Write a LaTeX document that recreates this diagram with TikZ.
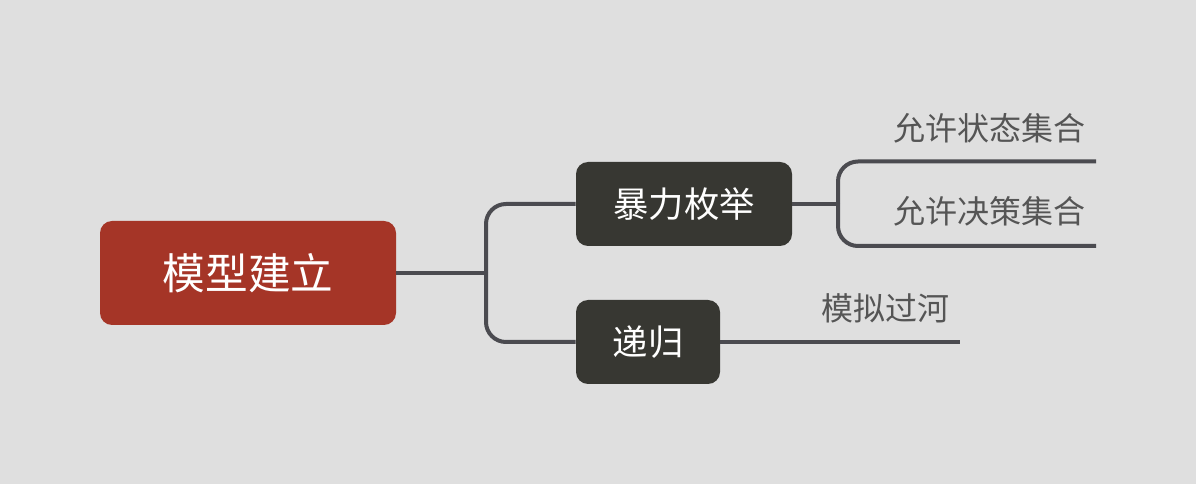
\documentclass[tikz,border=0pt]{standalone}
\usepackage{fontspec}
\newfontfamily\cjk{Noto Sans CJK SC}
\usetikzlibrary{positioning}
\definecolor{bgcol}{HTML}{DFDFDF}
\definecolor{rootcol}{HTML}{A53527}
\definecolor{topiccol}{HTML}{373732}
\definecolor{linecol}{HTML}{4B4B50}
\definecolor{labelcol}{HTML}{555555}
\tikzset{
  root/.style={fill=rootcol, rounded corners=9pt, text=white, minimum width=222pt, minimum height=78pt, font=\cjk\fontsize{32}{32}\selectfont},
  topic/.style={fill=topiccol, rounded corners=9pt, text=white, minimum height=63pt, font=\cjk\fontsize{26.5}{26.5}\selectfont},
  leaf/.style={text=labelcol, inner sep=0pt, font=\cjk\fontsize{24}{24}\selectfont},
  branch/.style={draw=linecol, line width=3pt, rounded corners=15pt},
}

\begin{document}
\begin{tikzpicture}[x=0.75pt, y=-0.75pt]
    \fill[bgcol] (0,0) rectangle (1196,484);
    \useasboundingbox (0,0) rectangle (1196,484);
    \node[root] (model) at (248,273) {模型建立};
    \node[topic, minimum width=162pt] (brute) at (684,204) {暴力枚举};
    \node[topic, minimum width=108pt] (recur) at (648,342) {递归};
    \coordinate (fork) at (486,273);
    \coordinate (bfork) at (838,204);
    \coordinate (s1) at (1096,161.5);
    \coordinate (s2) at (1096,246);
    \coordinate (r1) at (960,342);
    \node[leaf] (state) at (989.5,128) {允许状态集合};
    \node[leaf] (choice) at (989.5,211) {允许决策集合};
    \node[leaf] (river) at (885,308) {模拟过河};
    \draw[branch] (model) -- (fork);
    \draw[branch] (fork) |- (brute);
    \draw[branch] (fork) |- (recur);
    \draw[branch] (brute) -- (bfork);
    \draw[branch] (bfork) |- (s1);
    \draw[branch] (bfork) |- (s2);
    \draw[branch] (recur) -- (r1);
  \end{tikzpicture}
\end{document}
